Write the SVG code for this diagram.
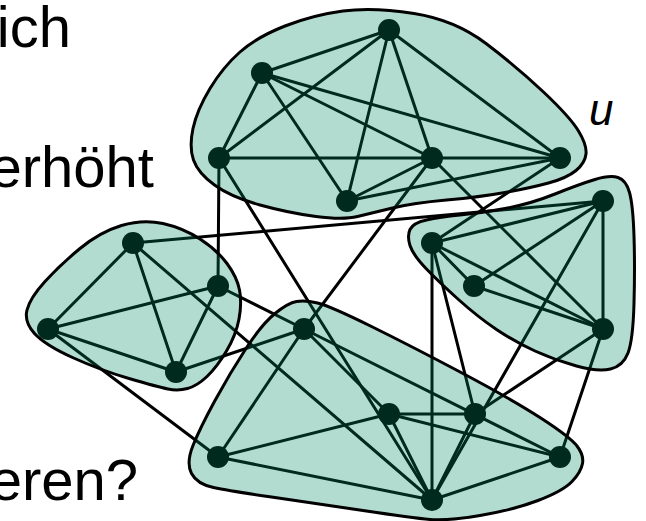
<svg xmlns="http://www.w3.org/2000/svg" width="646" height="521" viewBox="0 0 646 521">
<style>
.e{stroke:#000;stroke-width:3;fill:none;stroke-linecap:round}
.n{fill:#000}
.c{fill:#008c64;fill-opacity:0.3;stroke:#000;stroke-width:3}
.t{font-family:"Liberation Sans",Arial,sans-serif;font-size:58px;fill:#000}
</style>
<rect width="646" height="521" fill="#fff"/>
<g id="connectors" class="e">
<line x1="389" y1="30" x2="262" y2="73"/>
<line x1="389" y1="30" x2="219" y2="158"/>
<line x1="389" y1="30" x2="432" y2="158"/>
<line x1="389" y1="30" x2="560" y2="158"/>
<line x1="389" y1="30" x2="347" y2="201"/>
<line x1="262" y1="73" x2="219" y2="158"/>
<line x1="262" y1="73" x2="432" y2="158"/>
<line x1="262" y1="73" x2="560" y2="158"/>
<line x1="262" y1="73" x2="347" y2="201"/>
<line x1="219" y1="158" x2="560" y2="158"/>
<line x1="432" y1="158" x2="347" y2="201"/>
<line x1="560" y1="158" x2="347" y2="201"/>
<line x1="432" y1="243" x2="603" y2="201"/>
<line x1="432" y1="243" x2="474" y2="286"/>
<line x1="432" y1="243" x2="603" y2="329"/>
<line x1="603" y1="201" x2="474" y2="286"/>
<line x1="603" y1="201" x2="603" y2="329"/>
<line x1="474" y1="286" x2="603" y2="329"/>
<line x1="133" y1="243" x2="48" y2="329"/>
<line x1="133" y1="243" x2="176" y2="372"/>
<line x1="218" y1="286" x2="48" y2="329"/>
<line x1="218" y1="286" x2="176" y2="372"/>
<line x1="48" y1="329" x2="176" y2="372"/>
<line x1="304" y1="329" x2="389" y2="414"/>
<line x1="304" y1="329" x2="560" y2="457"/>
<line x1="304" y1="329" x2="218" y2="457"/>
<line x1="389" y1="414" x2="475" y2="414"/>
<line x1="389" y1="414" x2="218" y2="457"/>
<line x1="389" y1="414" x2="560" y2="457"/>
<line x1="389" y1="414" x2="432" y2="500"/>
<line x1="475" y1="414" x2="432" y2="500"/>
<line x1="218" y1="457" x2="432" y2="500"/>
<line x1="560" y1="457" x2="432" y2="500"/>
<line x1="219" y1="158" x2="218" y2="286"/>
<line x1="219" y1="158" x2="432" y2="500"/>
<line x1="432" y1="158" x2="304" y2="329"/>
<line x1="432" y1="158" x2="603" y2="329"/>
<line x1="560" y1="158" x2="432" y2="243"/>
<line x1="133" y1="243" x2="603" y2="201"/>
<line x1="133" y1="243" x2="432" y2="500"/>
<line x1="218" y1="286" x2="304" y2="329"/>
<line x1="176" y1="372" x2="304" y2="329"/>
<line x1="48" y1="329" x2="218" y2="457"/>
<line x1="432" y1="243" x2="432" y2="500"/>
<line x1="432" y1="243" x2="475" y2="414"/>
<line x1="603" y1="201" x2="432" y2="500"/>
<line x1="603" y1="329" x2="475" y2="414"/>
<line x1="603" y1="329" x2="560" y2="457"/>
</g>
<g id="nA"><circle class="n" cx="389" cy="30" r="11"/></g>
<g id="nB"><circle class="n" cx="262" cy="73" r="11"/></g>
<g id="nC"><circle class="n" cx="219" cy="158" r="11"/></g>
<g id="nD"><circle class="n" cx="432" cy="158" r="11"/></g>
<g id="nE"><circle class="n" cx="560" cy="158" r="11"/></g>
<g id="nF"><circle class="n" cx="347" cy="201" r="11"/></g>
<g id="nG"><circle class="n" cx="432" cy="243" r="11"/></g>
<g id="nH"><circle class="n" cx="603" cy="201" r="11"/></g>
<g id="nI"><circle class="n" cx="474" cy="286" r="11"/></g>
<g id="nJ"><circle class="n" cx="603" cy="329" r="11"/></g>
<g id="nK"><circle class="n" cx="133" cy="243" r="11"/></g>
<g id="nL"><circle class="n" cx="218" cy="286" r="11"/></g>
<g id="nM"><circle class="n" cx="48" cy="329" r="11"/></g>
<g id="nN"><circle class="n" cx="176" cy="372" r="11"/></g>
<g id="nO"><circle class="n" cx="304" cy="329" r="11"/></g>
<g id="nP"><circle class="n" cx="389" cy="414" r="11"/></g>
<g id="nQ"><circle class="n" cx="475" cy="414" r="11"/></g>
<g id="nR"><circle class="n" cx="218" cy="457" r="11"/></g>
<g id="nS"><circle class="n" cx="560" cy="457" r="11"/></g>
<g id="nT"><circle class="n" cx="432" cy="500" r="11"/></g>
<g id="clusters">
<path id="clusterTop" class="c" d="M193,128.5 Q197,110 210,88.5 Q223,67 240,52 Q257,37 285,26 Q313,15 343,11 Q373,7 414,13.5 Q455,20 486,43.5 Q517,67 543.5,92 Q570,117 578.5,131 Q587,145 586,154 Q585,163 576,170.5 Q567,178 548.5,183 Q530,188 505,192.5 Q480,197 446.5,200 Q413,203 392.5,208 Q372,213 357.5,216.5 Q343,220 316,216.5 Q289,213 260,205 Q231,197 214.5,185 Q198,173 193.5,160 Q189,147 193,128.5 Z"/>
<path id="clusterRight" class="c" d="M410,229.5 Q413,223 426.5,220 Q440,217 460,215 Q480,213 505,208.5 Q530,204 555,194 Q580,184 595,179.5 Q610,175 618,177.5 Q626,180 629.5,192.5 Q633,205 634,236 Q635,267 634,303.5 Q633,340 628,353 Q623,366 610.5,369 Q598,372 576.5,366 Q555,360 535,351 Q515,342 496.5,329.5 Q478,317 459,300 Q440,283 426.5,269 Q413,255 410,245.5 Q407,236 410,229.5 Z"/>
<path id="clusterLeft" class="c" d="M163,223.5 Q183,228 200,239 Q217,250 227,263.5 Q237,277 239.5,290 Q242,303 239,319 Q236,335 226.5,351 Q217,367 207,376.5 Q197,386 187.5,388.5 Q178,391 168,389 Q158,387 129,378.5 Q100,370 72.5,357.5 Q45,345 34.5,333.5 Q24,322 27,310 Q30,298 45,281.5 Q60,265 80,248.5 Q100,232 121.5,225.5 Q143,219 163,223.5 Z"/>
<path id="clusterBottom" class="c" d="M317.5,303 Q330,306 371.5,326.5 Q413,347 463,373.5 Q513,400 541.5,418.5 Q570,437 577,446 Q584,455 582.5,463.5 Q581,472 572,481.5 Q563,491 538,500.5 Q513,510 480,515.5 Q447,521 430,519.5 Q413,518 363,510.5 Q313,503 271.5,497 Q230,491 213.5,487.5 Q197,484 191.5,473.5 Q186,463 193,445.5 Q200,428 215,400.5 Q230,373 246,348.5 Q262,324 275,313.5 Q288,303 296.5,301.5 Q305,300 317.5,303 Z"/>
</g>
<g id="labels">
<text class="t" x="71" y="47" text-anchor="end">ich</text>
<text class="t" x="154" y="187" text-anchor="end">erhöht</text>
<text class="t" x="138" y="500" text-anchor="end">eren?</text>
<text x="589" y="125" style="font-family:'Liberation Sans',Arial,sans-serif;font-size:44px;font-style:italic">u</text>
</g>
</svg>
